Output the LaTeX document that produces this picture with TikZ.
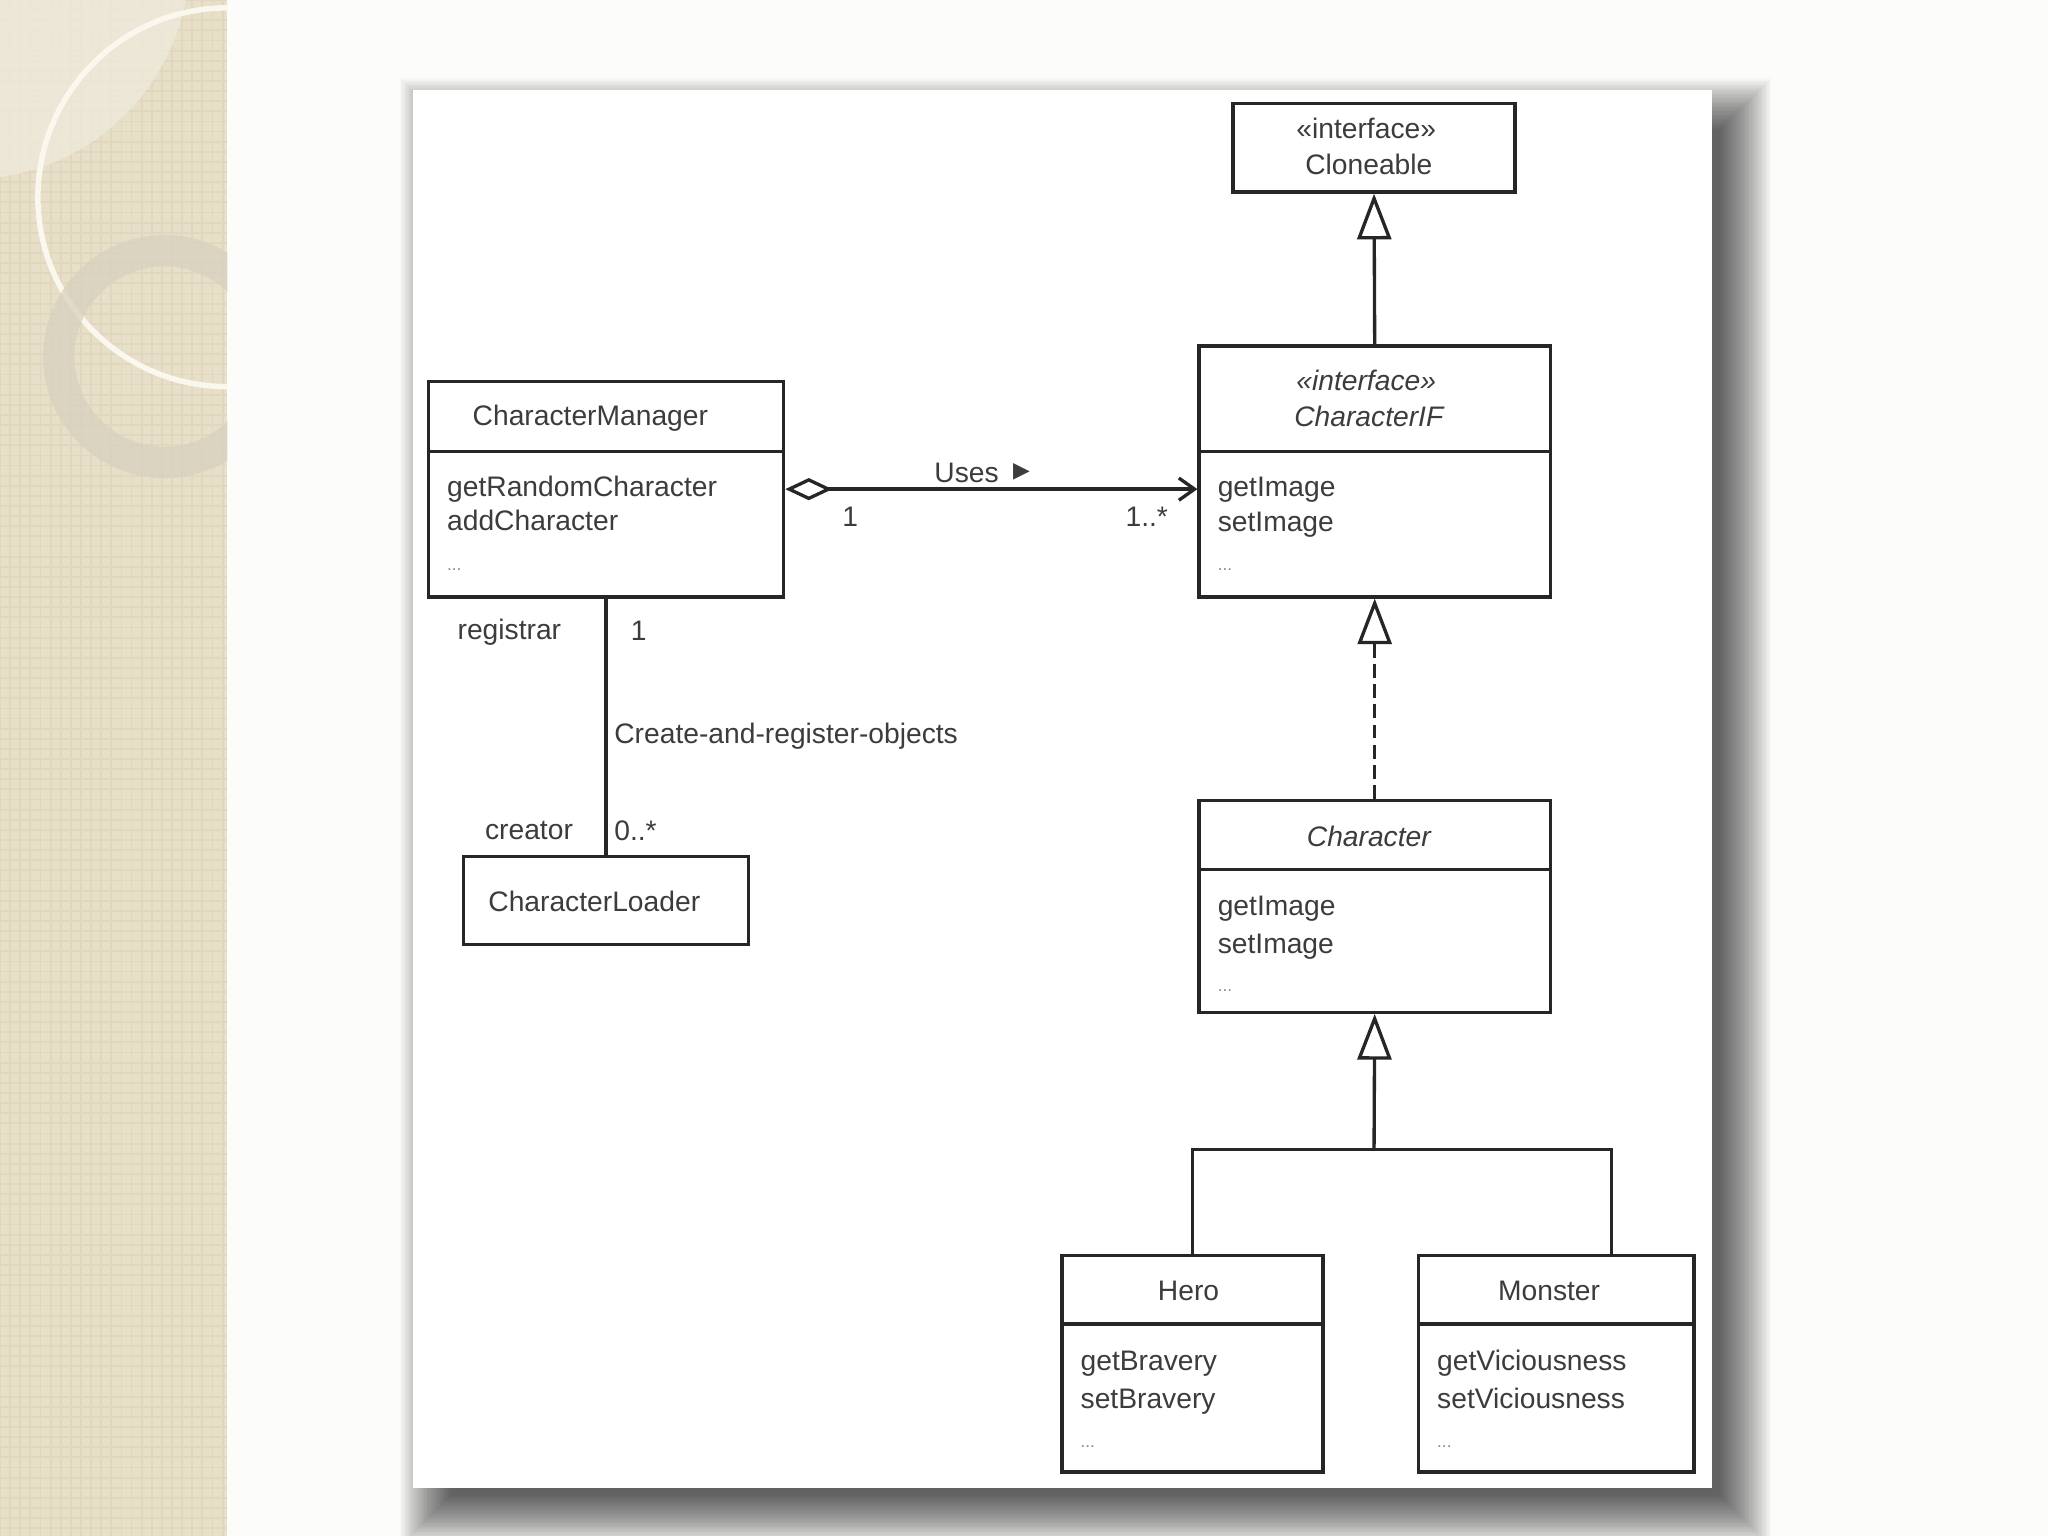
\documentclass[tikz,border=0pt]{standalone}
\usepackage{fontspec}
\setmainfont{Liberation Sans}
\newfontfamily\symfont{DejaVu Sans}
\usetikzlibrary{arrows.meta}

\definecolor{ink}{HTML}{262626}
\definecolor{strip}{RGB}{231,223,199}
\definecolor{stripgrid}{RGB}{224,215,190}
\definecolor{lens}{RGB}{240,235,221}
\definecolor{ringc}{RGB}{216,209,190}
\definecolor{hoop}{RGB}{250,247,238}
\definecolor{slide}{RGB}{252,252,251}

\begin{document}
\begin{tikzpicture}
  [
    x=0.02cm, y=-0.02cm,
    every node/.style={font=\fontsize{12.3}{15}\selectfont, text=ink!90, inner sep=0pt},
    cls/.style={draw=ink, line width=1.45pt, fill=white, rectangle},
    sep/.style={draw=ink, line width=1.45pt},
    op/.style={anchor=base west},
    more/.style={anchor=base west, font=\fontsize{7.5}{8}\selectfont, text=ink!55},
    link/.style={draw=ink, line width=1.45pt},
    gen/.style={link, -{Triangle[open, length=0.7cm, width=0.52cm]}},
    real/.style={gen, dash pattern=on 6pt off 2.8pt},
    agg/.style={link, {Diamond[open, length=0.72cm, width=0.34cm]}-{Straight Barb[length=0.24cm, width=0.34cm]}}
  ]
  \useasboundingbox (0,0) rectangle (1568,1176);

  % slide background
  \fill[slide] (0,0) rectangle (1568,1176);
  \fill[strip] (0,0) rectangle (174,1176);
  \begin{scope}
    \clip (0,0) rectangle (174,1176);
    \draw[stripgrid, step=0.155cm, line width=0.8pt] (0,0) grid (174,1176);
    \fill[lens, opacity=0.75] (-23,-31) circle [radius=168];
    \draw[hoop, line width=2.4pt] (174,151) circle [radius=145];
    \fill[ringc, opacity=0.75, even odd rule] (126,273) circle [radius=93] (126,273) circle [radius=69];
  \end{scope}

  % paper with shadow
  \foreach \r in {0,1,...,40}
    \fill[black, opacity=0.02] (346-\r,100-\r) rectangle (1316+\r,1144+\r);
  \fill[white] (316,69) rectangle (1311,1139);

  % classes
  \node[cls, minimum width=4.32cm, minimum height=1.36cm] (clone) at (1052,113) {};
  \node (clonetag) at (1046,98) {«interface»};
  \node (clonename) at (1048,126) {Cloneable};

  \node[cls, minimum width=5.38cm, minimum height=3.84cm] (charif) at (1052.5,361) {};
  \draw[sep] ([yshift=-1.64cm]charif.north west) -- ([yshift=-1.64cm]charif.north east);
  \node (ciftag) at (1046,291) {\itshape «interface»};
  \node (cifname) at (1048,319) {\itshape CharacterIF};
  \node[op] (cifget) at (932,380) {getImage};
  \node[op] (cifset) at (932,407) {setImage};
  \node[more] (cifmore) at (932,437) {...};

  \node[cls, minimum width=5.44cm, minimum height=3.3cm] (mgr) at (464,374.5) {};
  \draw[sep] ([yshift=-1.1cm]mgr.north west) -- ([yshift=-1.1cm]mgr.north east);
  \node (mgrname) at (452,320) {CharacterManager};
  \node[op] (mgrget) at (342,380) {getRandomCharacter};
  \node[op] (mgradd) at (342,406) {addCharacter};
  \node[more] (mgrmore) at (342,437) {...};

  \node[cls, minimum width=4.36cm, minimum height=1.34cm] (loader) at (464,689.5) {};
  \node (loadername) at (455,690) {CharacterLoader};

  \node[cls, minimum width=5.38cm, minimum height=3.24cm] (chr) at (1052.5,694) {};
  \draw[sep] ([yshift=-1.08cm]chr.north west) -- ([yshift=-1.08cm]chr.north east);
  \node (chrname) at (1048,640) {\itshape Character};
  \node[op] (chrget) at (932,701) {getImage};
  \node[op] (chrset) at (932,730) {setImage};
  \node[more] (chrmore) at (932,759) {...};

  \node[cls, minimum width=4cm, minimum height=3.32cm] (hero) at (913,1044) {};
  \draw[sep] ([yshift=-1.08cm]hero.north west) -- ([yshift=-1.08cm]hero.north east);
  \node (heroname) at (910,988) {Hero};
  \node[op] (heroget) at (827,1049) {getBravery};
  \node[op] (heroset) at (827,1078) {setBravery};
  \node[more] (heromore) at (827,1108) {...};

  \node[cls, minimum width=4.22cm, minimum height=3.32cm] (mon) at (1191.5,1044) {};
  \draw[sep] ([yshift=-1.08cm]mon.north west) -- ([yshift=-1.08cm]mon.north east);
  \node (monname) at (1186,988) {Monster};
  \node[op] (monget) at (1100,1049) {getViciousness};
  \node[op] (monset) at (1100,1078) {setViciousness};
  \node[more] (monmore) at (1100,1108) {...};

  % relations
  \draw[gen] (charif.north) -- (clone.south);
  \draw[real] (chr.north) -- (charif.south);
  \coordinate (fork) at (1052,880);
  \draw[gen] (fork) -- (chr.south);
  \draw[link] (hero.north) |- (fork) -| ([xshift=0.85cm]mon.north);

  \draw[agg] (mgr.east) -- (charif.west |- mgr.east);
  \node (uses) at (740,362) {Uses};
  \node (usesdir) at (782,361) {\symfont\fontsize{9.5}{9.5}\selectfont ▶};
  \node (aggone) at (651,396) {1};
  \node (aggmany) at (878,396) {1..*};

  \draw[link] (mgr.south) -- (loader.north);
  \node (registrar) at (390,484) {registrar};
  \node (regone) at (489,483) {1};
  \node[anchor=west] (create) at (470,564) {Create-and-register-objects};
  \node (creator) at (405,636) {creator};
  \node[anchor=west] (creatormany) at (470,636) {0..*};
\end{tikzpicture}
\end{document}
